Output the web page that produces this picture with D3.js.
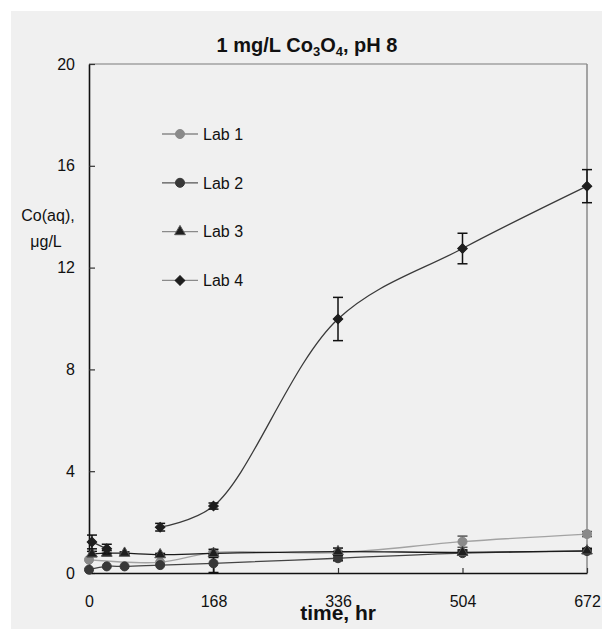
<!DOCTYPE html>
<html><head><meta charset="utf-8">
<script src="https://cdn.jsdelivr.net/npm/d3@7"></script>
<style>body{margin:0;background:#fff}svg{display:block;font-family:"Liberation Sans",Arial,sans-serif}</style>
</head><body><svg id="c" width="608" height="630"></svg>
<script>
// ---- data ----
const labNames = ["Lab 1", "Lab 2", "Lab 3", "Lab 4"];
const lab1Times = [0, 96, 168, 336, 504, 672];
const lab1Values = [0.52, 0.42, 0.80, 0.80, 1.23, 1.53];
const lab1Errors = [0, 0, 0.05, 0.05, 0.22, 0.1];
const lab2Times = [0, 24, 48, 96, 168, 336, 504, 672];
const lab2Values = [0.13, 0.26, 0.26, 0.31, 0.38, 0.58, 0.78, 0.86];
const lab2Errors = [0, 0, 0, 0, 0.36, 0.1, 0.08, 0.06];
const lab3Times = [4, 24, 48, 96, 168, 336, 504, 672];
const lab3Values = [0.75, 0.78, 0.78, 0.72, 0.77, 0.84, 0.81, 0.87];
const lab3Errors = [0.1, 0.1, 0.05, 0.05, 0.16, 0.14, 0.1, 0.1];
const lab4Times = [4, 24, 48, 96, 168, 336, 504, 672];
const lab4Values = [1.22, 0.95, null, 1.80, 2.63, 9.98, 12.75, 15.2];
const lab4Errors = [0.27, 0.18, 0, 0.15, 0.12, 0.85, 0.6, 0.65];
const xTicks = [0, 168, 336, 504, 672];
const yTicks = [0, 4, 8, 12, 16, 20];

const series = [
  {name: labNames[0], t: lab1Times, v: lab1Values, e: lab1Errors, line: "#a3a3a3", fill: "#8a8a8a", stroke: "#8a8a8a", shape: "circle"},
  {name: labNames[1], t: lab2Times, v: lab2Values, e: lab2Errors, line: "#444", fill: "#383838", stroke: "#383838", shape: "circle"},
  {name: labNames[2], t: lab3Times, v: lab3Values, e: lab3Errors, line: "#1a1a1a", fill: "#1e1e1e", stroke: "#555", shape: "triangle"},
  {name: labNames[3], t: lab4Times, v: lab4Values, e: lab4Errors, line: "#3a3a3a", fill: "#1e1e1e", stroke: "#1e1e1e", shape: "diamond"}
];

const svg = d3.select("#c");
svg.append("rect").attr("x", 11).attr("y", 11).attr("width", 591).attr("height", 618).attr("fill", "#f0f0f0");

const L = 89, R = 587, T = 64, B = 573;
const x = d3.scaleLinear().domain([0, 672]).range([L, R]);
const y = d3.scaleLinear().domain([0, 20]).range([B, T]);

// frame (top/right gray)
svg.append("line").attr("x1", L).attr("x2", R).attr("y1", T).attr("y2", T).attr("stroke", "#7a7a7a").attr("stroke-width", 1.2);
svg.append("line").attr("x1", R).attr("x2", R).attr("y1", T).attr("y2", B).attr("stroke", "#8a8a8a").attr("stroke-width", 1.5);

// axes
const yAxis = svg.append("g").attr("transform", `translate(${L},0)`)
  .call(d3.axisLeft(y).tickValues(yTicks).tickFormat(d3.format("d")).tickSizeInner(-6).tickSizeOuter(0).tickPadding(14));
const xAxis = svg.append("g").attr("transform", `translate(0,${B})`)
  .call(d3.axisBottom(x).tickValues(xTicks).tickFormat(d3.format("d")).tickSizeInner(-5).tickSizeOuter(0).tickPadding(23));
[yAxis, xAxis].forEach(g => {
  g.select(".domain").attr("stroke", "#111").attr("stroke-width", 1.6);
  g.selectAll(".tick line").attr("stroke", "#333").attr("stroke-width", 1.2);
  g.selectAll(".tick text").attr("font-size", 16).attr("fill", "#111").attr("font-family", "Liberation Sans, Arial, sans-serif");
});

// series
const sym = s => s.shape === "circle" ? d3.symbol(d3.symbolCircle, 64)
  : s.shape === "triangle" ? d3.symbol(d3.symbolTriangle, 50)
  : d3.symbol(d3.symbolSquare, 46);
const rot = s => s.shape === "diamond" ? " rotate(45)" : "";

series.forEach(s => {
  const pts = s.t.map((t, i) => ({t, v: s.v[i], e: s.e[i]}));
  const line = d3.line().defined(d => d.v != null).x(d => x(d.t)).y(d => y(d.v)).curve(d3.curveCatmullRom.alpha(0.5));
  svg.append("path").attr("d", line(pts)).attr("fill", "none").attr("stroke", s.line).attr("stroke-width", 1.3);
  const valid = pts.filter(d => d.v != null);
  const eb = svg.append("g").attr("stroke", s.name === "Lab 1" ? "#555" : "#111").attr("stroke-width", 1.5);
  valid.filter(d => d.e > 0).forEach(d => {
    const lo = Math.max(0, d.v - d.e), hi = d.v + d.e;
    eb.append("line").attr("x1", x(d.t)).attr("x2", x(d.t)).attr("y1", y(lo)).attr("y2", y(hi));
    eb.append("line").attr("x1", x(d.t) - 5).attr("x2", x(d.t) + 5).attr("y1", y(hi)).attr("y2", y(hi));
    eb.append("line").attr("x1", x(d.t) - 5).attr("x2", x(d.t) + 5).attr("y1", y(lo)).attr("y2", y(lo));
  });
  svg.append("g").selectAll("path").data(valid).join("path")
    .attr("d", sym(s)).attr("transform", d => `translate(${x(d.t)},${y(d.v)})${rot(s)}`)
    .attr("fill", s.fill).attr("stroke", s.stroke).attr("stroke-width", 1);
});

// legend
series.forEach((s, i) => {
  const ly = 134 + i * 48.8;
  const g = svg.append("g");
  g.append("line").attr("x1", 162).attr("x2", 198).attr("y1", ly).attr("y2", ly).attr("stroke", i === 1 ? "#555" : "#8a8a8a").attr("stroke-width", 1.3);
  g.append("path").attr("d", sym(s)).attr("transform", `translate(180,${ly})${rot(s)}`).attr("fill", s.fill).attr("stroke", s.stroke);
  g.append("text").attr("x", 203).attr("y", ly).attr("dy", "0.36em").attr("font-size", 16).attr("fill", "#111").text(s.name);
});

// title
const title = svg.append("text").attr("x", 307).attr("y", 52).attr("text-anchor", "middle")
  .attr("font-size", 20).attr("font-weight", "bold").attr("fill", "#111");
title.append("tspan").text("1 mg/L Co");
title.append("tspan").attr("font-size", 13).attr("dy", 4).text("3");
title.append("tspan").attr("dy", -4).text("O");
title.append("tspan").attr("font-size", 13).attr("dy", 4).text("4");
title.append("tspan").attr("dy", -4).text(", pH 8");

// axis titles
svg.append("text").attr("x", 48).attr("y", 221).attr("text-anchor", "middle").attr("font-size", 16).attr("fill", "#111").text("Co(aq),");
svg.append("text").attr("x", 46).attr("y", 247).attr("text-anchor", "middle").attr("font-size", 16).attr("fill", "#111").text("μg/L");
svg.append("text").attr("x", 376).attr("y", 620).attr("text-anchor", "end").attr("font-size", 21).attr("font-weight", "bold").attr("fill", "#111").text("time, hr");
</script></body></html>
